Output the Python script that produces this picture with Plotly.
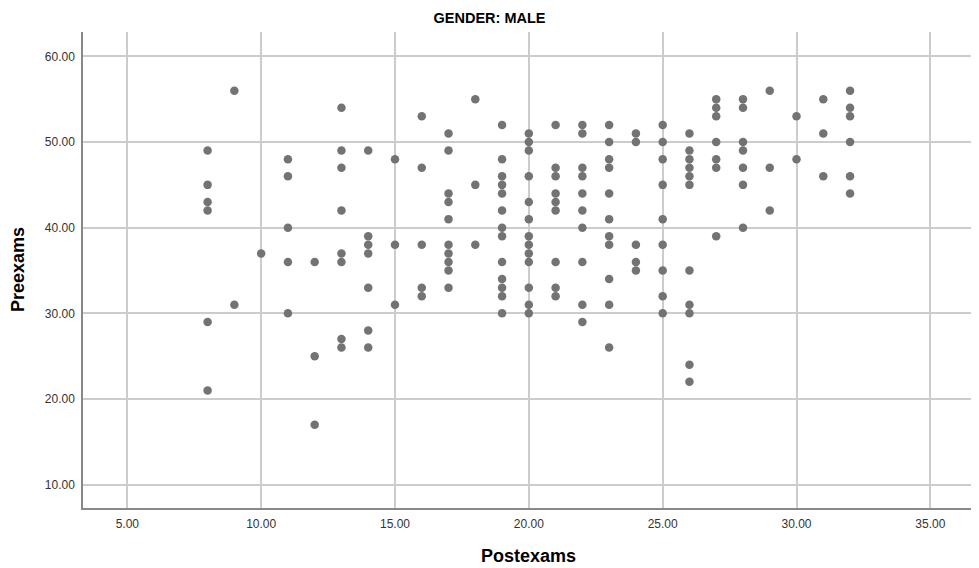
import plotly.graph_objects as go

# Postexams (x) and Preexams (y) values, grouped by Postexams score
post_8 = [49, 45, 43, 42, 29, 21]
post_9 = [56, 31]
post_10 = [37]
post_11 = [48, 46, 40, 36, 30]
post_12 = [36, 25, 17]
post_13 = [54, 49, 47, 42, 37, 36, 27, 26]
post_14 = [49, 39, 38, 37, 33, 28, 26]
post_15 = [48, 38, 31]
post_16 = [53, 47, 38, 33, 32]
post_17 = [51, 49, 44, 43, 41, 38, 37, 36, 35, 33]
post_18 = [55, 45, 38]
post_19 = [52, 48, 46, 45, 44, 42, 40, 39, 36, 34, 33, 32, 30]
post_20 = [51, 50, 49, 46, 43, 41, 39, 38, 37, 36, 33, 31, 30]
post_21 = [52, 47, 46, 44, 43, 42, 36, 33, 32]
post_22 = [52, 51, 47, 46, 44, 42, 40, 36, 31, 29]
post_23 = [52, 50, 48, 47, 44, 41, 39, 38, 34, 31, 26]
post_24 = [51, 50, 38, 36, 35]
post_25 = [52, 50, 48, 45, 41, 38, 35, 32, 30]
post_26 = [51, 49, 48, 47, 46, 45, 35, 31, 30, 24, 22]
post_27 = [55, 54, 53, 50, 48, 47, 39]
post_28 = [55, 54, 50, 49, 47, 45, 40]
post_29 = [56, 47, 42]
post_30 = [53, 48]
post_31 = [55, 51, 46]
post_32 = [56, 54, 53, 50, 46, 44]

groups = {
    8: post_8, 9: post_9, 10: post_10, 11: post_11, 12: post_12, 13: post_13,
    14: post_14, 15: post_15, 16: post_16, 17: post_17, 18: post_18, 19: post_19,
    20: post_20, 21: post_21, 22: post_22, 23: post_23, 24: post_24, 25: post_25,
    26: post_26, 27: post_27, 28: post_28, 29: post_29, 30: post_30, 31: post_31,
    32: post_32,
}

postexams = []
preexams = []
for k, vals in groups.items():
    for v in vals:
        postexams.append(k)
        preexams.append(v)

x_ticks = [5, 10, 15, 20, 25, 30, 35]
y_ticks = [10, 20, 30, 40, 50, 60]

fig = go.Figure(
    go.Scatter(
        x=postexams,
        y=preexams,
        mode="markers",
        marker=dict(color="#737373", size=8.5, line=dict(width=0)),
        showlegend=False,
        hoverinfo="x+y",
    )
)

FONT = "Arial, Liberation Sans, sans-serif"

axis_common = dict(
    showgrid=True,
    gridcolor="#cccccc",
    gridwidth=1.5,
    zeroline=False,
    showline=True,
    linecolor="#888888",
    linewidth=1.5,
    ticks="",
    automargin=False,
    ticklabelstandoff=4,
    tickfont=dict(family=FONT, size=12, color="#333333"),
    tickformat=".2f",
)

# the page body adds an 8px offset, so the figure is 8px smaller
W, H = 971, 560
fig.update_layout(
    width=W,
    height=H,
    margin=dict(l=75, r=5, t=24, b=60),
    paper_bgcolor="white",
    plot_bgcolor="white",
    title=dict(
        text="<b>GENDER: MALE</b>",
        x=481.5 / W,
        xref="container",
        xanchor="center",
        y=1 - 10 / H,
        yref="container",
        yanchor="middle",
        font=dict(family=FONT, size=14.5, color="#000000"),
    ),
    xaxis=dict(axis_common, range=[3.345, 36.63], tickvals=x_ticks),
    yaxis=dict(axis_common, range=[7.27, 62.85], tickvals=y_ticks),
    annotations=[
        dict(
            text="<b>Postexams</b>",
            xref="paper", yref="paper",
            x=0.5, y=-48 / 476, xanchor="center", yanchor="middle",
            showarrow=False,
            font=dict(family=FONT, size=18, color="#000000"),
        ),
        dict(
            text="<b>Preexams</b>",
            xref="paper", yref="paper",
            x=-65 / 891, y=0.5, xanchor="center", yanchor="middle",
            textangle=-90,
            showarrow=False,
            font=dict(family=FONT, size=18, color="#000000"),
        ),
    ],
)

fig.write_html("out.html")
